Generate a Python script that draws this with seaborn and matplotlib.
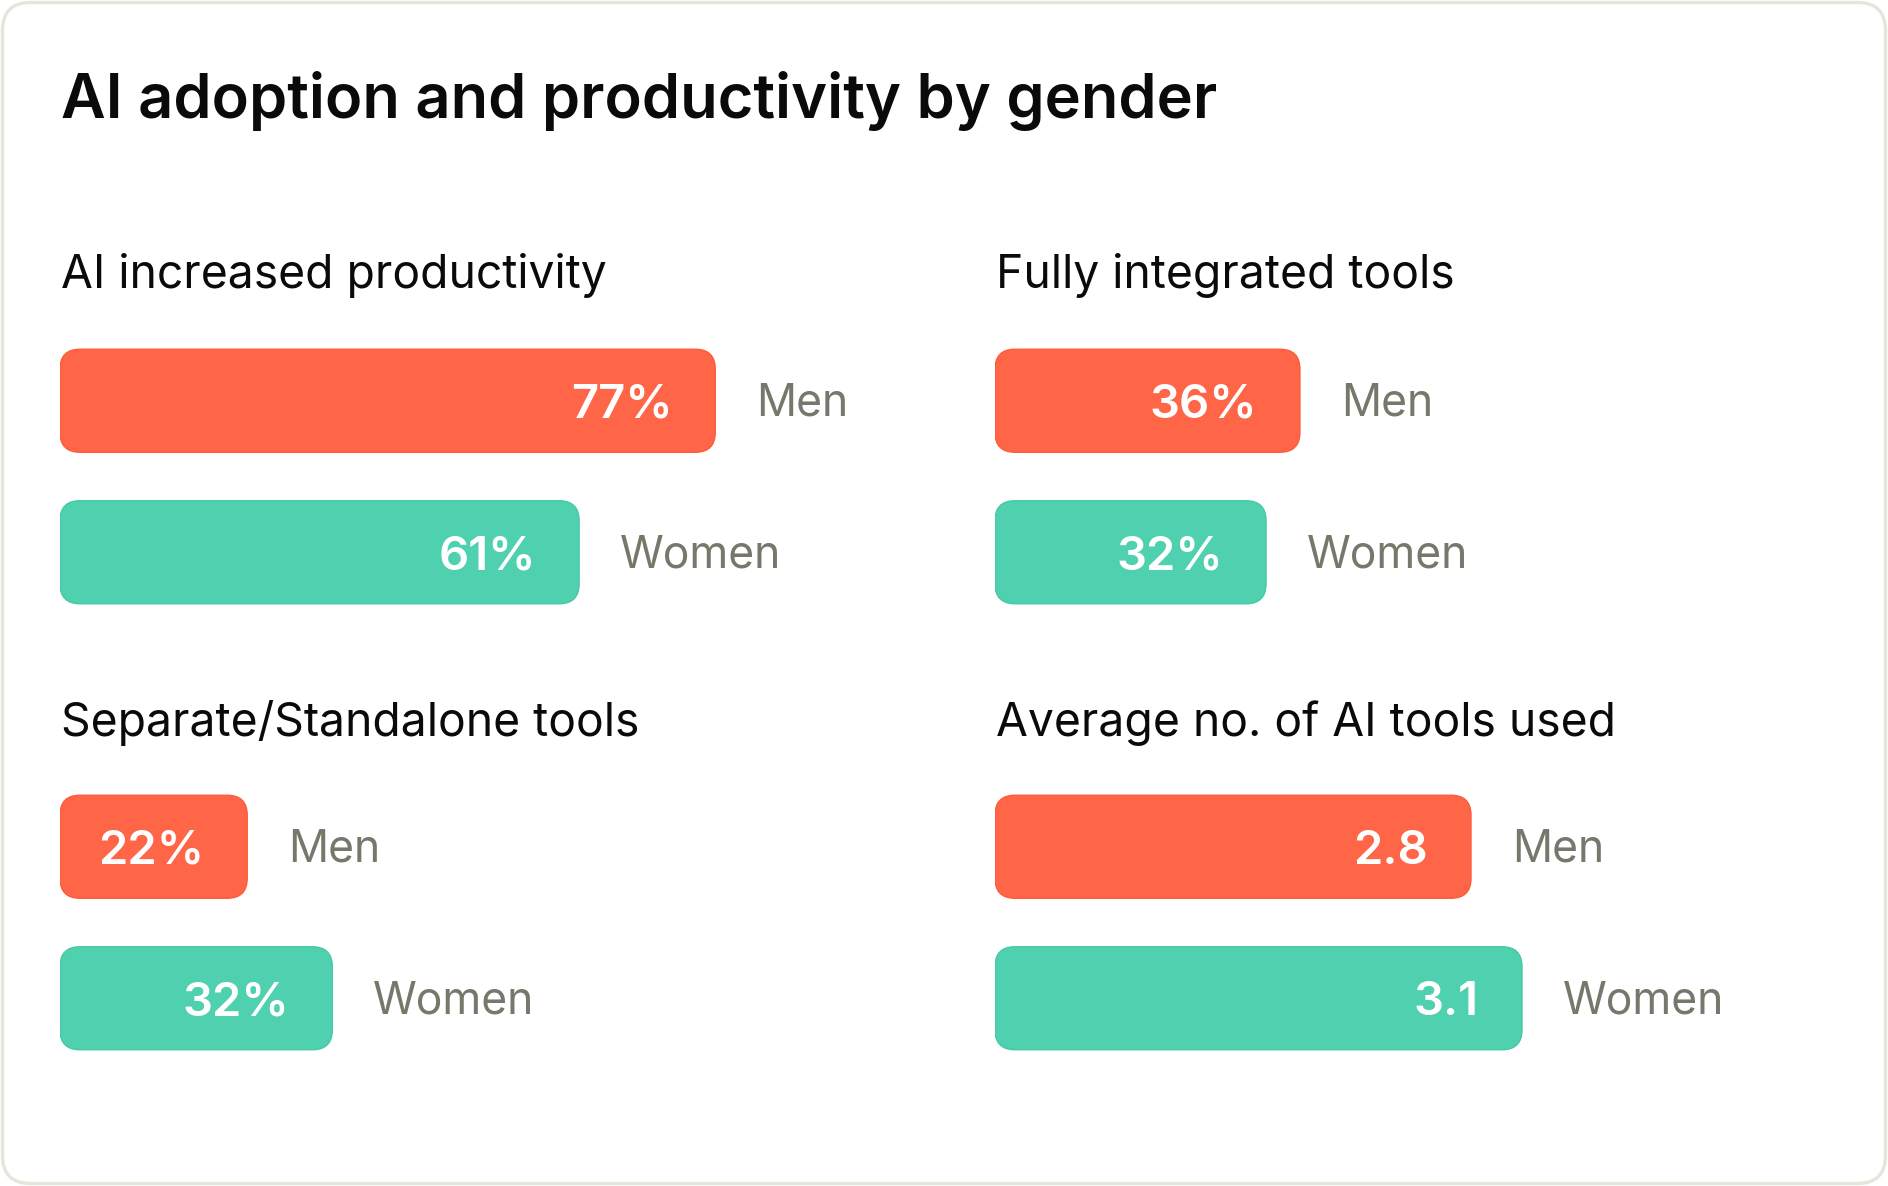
import numpy as np
import pandas as pd
import seaborn as sns
import matplotlib.pyplot as plt
from matplotlib.patches import FancyBboxPatch

sns.set_style('white')
plt.rcParams['font.family'] = ['Inter', 'DejaVu Sans']

# Data
panels = ['AI increased productivity', 'Fully integrated tools',
          'Separate/Standalone tools', 'Average no. of AI tools used']
groups = ['Men', 'Women']
men = [77, 36, 22, 2.8]
women = [61, 32, 32, 3.1]
men_labels = ['77%', '36%', '22%', '2.8']
women_labels = ['61%', '32%', '32%', '3.1']
xmax = [100, 100, 100, 5]

colors = {'Men': '#FF6547', 'Women': '#4FD0AE'}
edges = {'Men': '#FF5A3C', 'Women': '#47C9A5'}

W, H = 1888, 1186
fig = plt.figure(figsize=(W / 100, H / 100), dpi=100)
fig.patch.set_facecolor('white')

# card outline
card = FancyBboxPatch((2.5 / 100, 2.5 / 100), (W - 5) / 100, (H - 5) / 100,
                      boxstyle='round,pad=0,rounding_size=0.28',
                      transform=fig.dpi_scale_trans, facecolor='white',
                      edgecolor='#E5E5DC', linewidth=2.4, zorder=-5)
fig.patches.append(card)

fig.text(61 / W, 1 - 118 / H, 'AI adoption and productivity by gender',
         fontsize=44.2, weight='semibold', color='#0A0A0A', va='baseline')

# pixel layout: left, top of axes, axes width
pos = [(60, 325, 851), (995, 325, 847), (60, 771, 851), (995, 771, 850)]
sub_base = [288, 288, 736, 736]
ax_h = 303

for i, name in enumerate(panels):
    left, top, wpx = pos[i]
    ax = fig.add_axes([left / W, 1 - (top + ax_h) / H, wpx / W, ax_h / H])
    df = pd.DataFrame({'group': groups, 'value': [men[i], women[i]]})
    sns.barplot(data=df, x='value', y='group', hue='group', palette=colors,
                orient='h', width=0.68, legend=False, ax=ax)
    ax.set_xlim(0, xmax[i])
    ax.set_ylim(1.5, -0.5)
    ax.axis('off')

    fig.text((left + 1) / W, 1 - sub_base[i] / H, name, fontsize=33.3,
             color='#0A0A0A', va='baseline')

    # rounded bars
    xpp = xmax[i] / wpx
    ypp = 2.0 / ax_h
    for p in list(ax.patches):
        x, y = p.get_x(), p.get_y()
        w, h = p.get_width(), p.get_height()
        g = groups[int(round(y + h / 2))]
        p.set_visible(False)
        rb = FancyBboxPatch((x, y), w, h,
                            boxstyle='round,pad=0,rounding_size=%f' % (20 * xpp),
                            mutation_aspect=ypp / xpp,
                            facecolor=colors[g], edgecolor=edges[g],
                            linewidth=1.0, zorder=3)
        ax.add_patch(rb)

    for j, (v, lab) in enumerate(zip([men[i], women[i]],
                                     [men_labels[i], women_labels[i]])):
        ax.annotate(lab, (v, j), xytext=(-43, -17), textcoords='offset pixels',
                    ha='right', va='baseline', fontsize=34, weight='semibold',
                    color='white', zorder=5)
        ax.annotate(groups[j], (v, j), xytext=(41, -15),
                    textcoords='offset pixels', ha='left', va='baseline',
                    fontsize=32, color='#77776B', zorder=5)

plt.savefig('out.png', dpi=100)
